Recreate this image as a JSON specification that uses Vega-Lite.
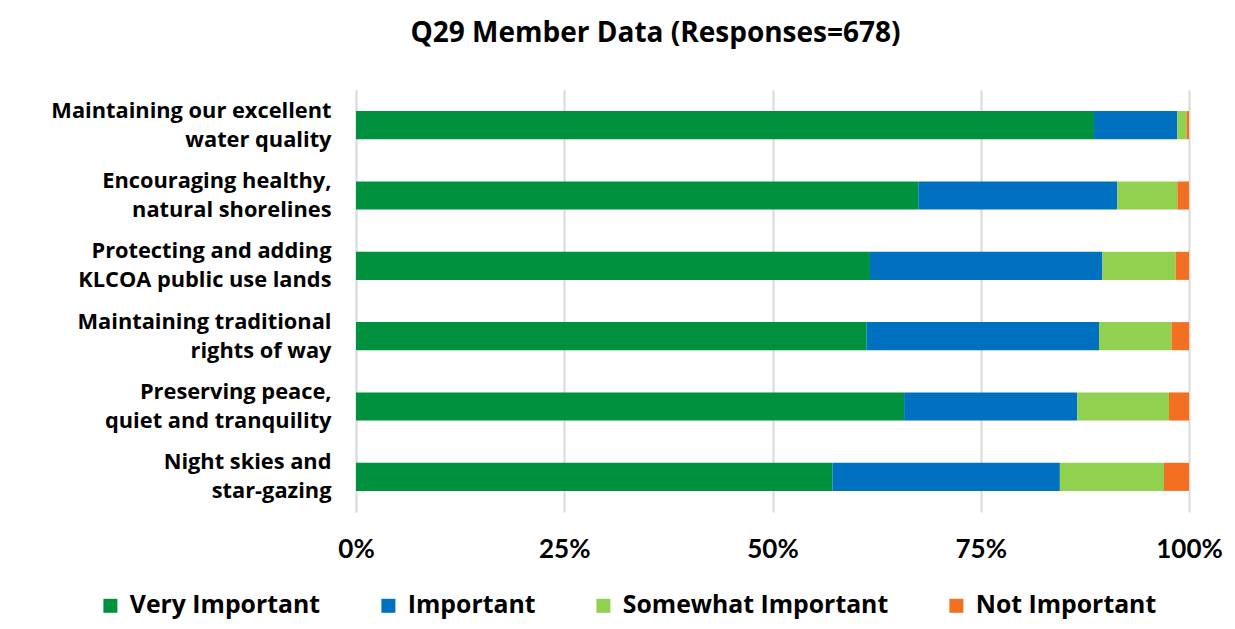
{
  "$schema": "https://vega.github.io/schema/vega-lite/v6.json",
  "autosize": {"type": "none"},
  "width": 833,
  "height": 422,
  "padding": {"left": 356, "top": 90, "right": 46, "bottom": 117},
  "background": "white",
  "title": {
    "text": "Q29 Member Data (Responses=678)",
    "font": "Open Sans",
    "fontSize": 28,
    "fontWeight": "bold",
    "color": "#000000",
    "anchor": "middle",
    "dx": -117,
    "offset": 42
  },
  "data": {
    "values": [
      {"Item": "Maintaining our excellent|water quality", "Rating": "Very Important", "Pct": 88.6},
      {"Item": "Maintaining our excellent|water quality", "Rating": "Important", "Pct": 10.0},
      {"Item": "Maintaining our excellent|water quality", "Rating": "Somewhat Important", "Pct": 1.1},
      {"Item": "Maintaining our excellent|water quality", "Rating": "Not Important", "Pct": 0.3},
      {"Item": "Encouraging healthy,|natural shorelines", "Rating": "Very Important", "Pct": 67.5},
      {"Item": "Encouraging healthy,|natural shorelines", "Rating": "Important", "Pct": 23.9},
      {"Item": "Encouraging healthy,|natural shorelines", "Rating": "Somewhat Important", "Pct": 7.2},
      {"Item": "Encouraging healthy,|natural shorelines", "Rating": "Not Important", "Pct": 1.4},
      {"Item": "Protecting and adding|KLCOA public use lands", "Rating": "Very Important", "Pct": 61.7},
      {"Item": "Protecting and adding|KLCOA public use lands", "Rating": "Important", "Pct": 27.9},
      {"Item": "Protecting and adding|KLCOA public use lands", "Rating": "Somewhat Important", "Pct": 8.8},
      {"Item": "Protecting and adding|KLCOA public use lands", "Rating": "Not Important", "Pct": 1.6},
      {"Item": "Maintaining traditional|rights of way", "Rating": "Very Important", "Pct": 61.3},
      {"Item": "Maintaining traditional|rights of way", "Rating": "Important", "Pct": 27.9},
      {"Item": "Maintaining traditional|rights of way", "Rating": "Somewhat Important", "Pct": 8.7},
      {"Item": "Maintaining traditional|rights of way", "Rating": "Not Important", "Pct": 2.1},
      {"Item": "Preserving peace,|quiet and tranquility", "Rating": "Very Important", "Pct": 65.8},
      {"Item": "Preserving peace,|quiet and tranquility", "Rating": "Important", "Pct": 20.8},
      {"Item": "Preserving peace,|quiet and tranquility", "Rating": "Somewhat Important", "Pct": 11.0},
      {"Item": "Preserving peace,|quiet and tranquility", "Rating": "Not Important", "Pct": 2.4},
      {"Item": "Night skies and|star-gazing", "Rating": "Very Important", "Pct": 57.2},
      {"Item": "Night skies and|star-gazing", "Rating": "Important", "Pct": 27.3},
      {"Item": "Night skies and|star-gazing", "Rating": "Somewhat Important", "Pct": 12.5},
      {"Item": "Night skies and|star-gazing", "Rating": "Not Important", "Pct": 3.0}
    ]
  },
  "transform": [
    {"calculate": "indexof(['Very Important', 'Important', 'Somewhat Important', 'Not Important'], datum.Rating)", "as": "RatingOrder"}
  ],
  "mark": {"type": "bar"},
  "encoding": {
    "y": {
      "field": "Item",
      "type": "nominal",
      "sort": null,
      "scale": {"paddingInner": 0.6, "paddingOuter": 0.3},
      "axis": {
        "title": null,
        "labelExpr": "split(datum.label, '|')",
        "labelFont": "Open Sans",
        "labelFontSize": 21.8,
        "labelFontWeight": "bold",
        "labelColor": "#000000",
        "labelLineHeight": 29,
        "labelPadding": 25,
        "labelOffset": -14.5,
        "labelLimit": 400,
        "ticks": false,
        "domainColor": "#D9D9D9",
        "domainWidth": 1.5,
        "grid": false
      }
    },
    "x": {
      "field": "Pct",
      "type": "quantitative",
      "stack": "normalize",
      "scale": {"domain": [0, 1], "nice": false},
      "axis": {
        "title": null,
        "format": ".0%",
        "values": [0, 0.25, 0.5, 0.75, 1],
        "labelFont": "Lato",
        "labelFontSize": 26,
        "labelFontWeight": "bold",
        "labelColor": "#000000",
        "labelPadding": 24,
        "labelFlush": false,
        "labelOverlap": false,
        "ticks": false,
        "domain": false,
        "grid": true,
        "gridColor": "#D9D9D9",
        "gridWidth": 2
      }
    },
    "order": {"field": "RatingOrder", "type": "quantitative", "sort": "ascending"},
    "color": {
      "field": "Rating",
      "type": "nominal",
      "scale": {
        "domain": ["Very Important", "Important", "Somewhat Important", "Not Important"],
        "range": ["#00913F", "#0070C0", "#92D050", "#F37022"]
      },
      "legend": {
        "title": null,
        "orient": "none",
        "legendX": -258,
        "legendY": 503,
        "direction": "horizontal",
        "symbolType": "square",
        "symbolSize": 196,
        "symbolStrokeWidth": 0,
        "labelFont": "Open Sans",
        "labelFontSize": 24.8,
        "labelFontWeight": "bold",
        "labelColor": "#000000",
        "labelOffset": 7,
        "columnPadding": 55,
        "labelLimit": 400
      }
    }
  },
  "config": {
    "view": {"stroke": null}
  }
}
